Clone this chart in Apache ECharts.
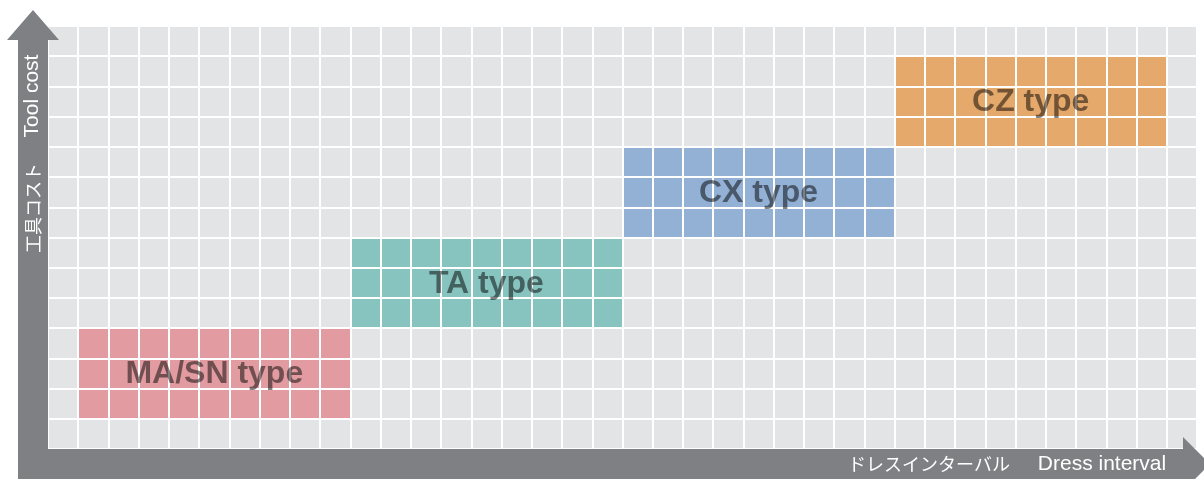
<!DOCTYPE html>
<html>
<head>
<meta charset="utf-8">
<script src="https://cdn.jsdelivr.net/npm/echarts@6/dist/echarts.min.js"></script>
<style>
html,body{margin:0;padding:0;background:#fff;}
#chart{width:1204px;height:479px;}
</style>
</head>
<body>
<div id="chart"></div>
<script>
// Data
const categories = ['MA/SN type', 'TA type', 'CX type', 'CZ type'];
const xStart = [1, 10, 19, 28];
const xEnd = [10, 19, 28, 37];
const yStart = [1, 4, 7, 10];
const yEnd = [4, 7, 10, 13];
const xLabelJa = 'ドレスインターバル';
const xLabelEn = 'Dress interval';
const yLabelJa = '工具コスト';
const yLabelEn = 'Tool cost';

// Palette
const palette = ['#e29ca1', '#87c4bf', '#93b1d4', '#e5a96b'];

const blockData = categories.map((c, i) => ({
  name: c,
  value: [xStart[i], xEnd[i], yStart[i], yEnd[i]],
  itemStyle: { color: palette[i] }
}));

const chart = echarts.init(document.getElementById('chart'), null, { renderer: 'canvas' });
const latin = '"Liberation Sans", Arial, Helvetica, sans-serif';
const cjk = '"Noto Sans CJK JP", sans-serif';
const arrowGray = '#7f8084';

chart.setOption({
  animation: false,
  grid: {
    left: 48, right: 7, top: 26, bottom: 30,
    show: true, backgroundColor: '#e3e4e6', borderWidth: 0
  },
  xAxis: {
    type: 'value', min: 0, max: 38, interval: 1, z: 4,
    axisLine: { show: false }, axisTick: { show: false }, axisLabel: { show: false },
    splitLine: { show: true, lineStyle: { color: '#ffffff', width: 2 } }
  },
  yAxis: {
    type: 'value', min: 0, max: 14, interval: 1, z: 4,
    axisLine: { show: false }, axisTick: { show: false }, axisLabel: { show: false },
    splitLine: { show: true, lineStyle: { color: '#ffffff', width: 2 } }
  },
  series: [
    {
      type: 'custom', z: 2,
      encode: { x: [0, 1], y: [2, 3] },
      data: blockData,
      renderItem: function (params, api) {
        const p0 = api.coord([api.value(0), api.value(3)]);
        const p1 = api.coord([api.value(1), api.value(2)]);
        return {
          type: 'rect',
          shape: { x: p0[0], y: p0[1], width: p1[0] - p0[0], height: p1[1] - p0[1] },
          style: { fill: api.visual('color') }
        };
      }
    },
    {
      type: 'custom', z: 10,
      encode: { x: [0, 1], y: [2, 3] },
      data: blockData,
      renderItem: function (params, api) {
        const c = api.coord([(api.value(0) + api.value(1)) / 2, (api.value(2) + api.value(3)) / 2]);
        return {
          type: 'text',
          x: c[0], y: c[1] + 1,
          style: {
            text: categories[params.dataIndex],
            fill: 'rgba(0,0,0,0.5)',
            font: 'bold 32px ' + latin,
            align: 'center', verticalAlign: 'middle'
          }
        };
      }
    }
  ],
  graphic: [
    {
      type: 'polygon', z: 20,
      shape: { points: [[7, 40], [33, 10], [59, 40], [48, 40], [48, 490], [18, 490], [18, 40]] },
      style: { fill: arrowGray }
    },
    {
      type: 'polygon', z: 20,
      shape: { points: [[18, 449], [1183, 449], [1183, 437], [1210, 464], [1183, 491], [18, 491]] },
      style: { fill: arrowGray }
    },
    {
      type: 'text', z: 21, x: 32, y: 96, rotation: Math.PI / 2,
      style: { text: yLabelEn, fill: '#ffffff', font: '21px ' + latin, align: 'center', verticalAlign: 'middle' }
    },
    {
      type: 'text', z: 21, x: 33, y: 208, rotation: Math.PI / 2,
      style: { text: yLabelJa, fill: '#ffffff', font: '18px ' + cjk, align: 'center', verticalAlign: 'middle' }
    },
    {
      type: 'text', z: 21, x: 929, y: 464,
      style: { text: xLabelJa, fill: '#ffffff', font: '18px ' + cjk, align: 'center', verticalAlign: 'middle' }
    },
    {
      type: 'text', z: 21, x: 1102, y: 464,
      style: { text: xLabelEn, fill: '#ffffff', font: '21px ' + latin, align: 'center', verticalAlign: 'middle' }
    }
  ]
});
</script>
</body>
</html>
